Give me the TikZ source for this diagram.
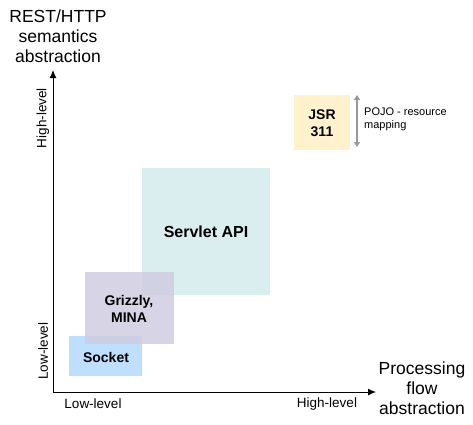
\documentclass[tikz,border=0pt]{standalone}
\usepackage{fontspec}
\setmainfont{Liberation Sans}
\usetikzlibrary{arrows.meta}
\definecolor{sockc}{HTML}{BFDFFF}
\definecolor{grizc}{HTML}{CFCDE0}
\definecolor{servc}{HTML}{DAEEEF}
\definecolor{jsrc}{HTML}{FFF2CC}
\tikzset{
  box/.style={inner sep=0pt, font=\bfseries\fontsize{14}{17}\selectfont, align=center},
  axislbl/.style={font=\fontsize{13.5}{16}\selectfont},
  title/.style={font=\fontsize{17.5}{20}\selectfont, align=center},
  axis/.style={draw=black, line width=1pt, -{Latex[length=8pt,width=7pt]}},
}
\begin{document}
\begin{tikzpicture}[x=1pt,y=-1pt]
\useasboundingbox (0,0) rectangle (473,424);
% boxes
\fill[servc] (142,168) rectangle (270,295);
\node[box, font=\bfseries\fontsize{16}{19}\selectfont] (servlet) at (206,232) {Servlet API};
\fill[sockc] (69,336) rectangle (142,376);
\fill[grizc, fill opacity=0.85] (85,272) rectangle (174,344);
\node[box] (grizzly) at (129,309) {Grizzly,\\MINA};
\node[box] (socket) at (106,357) {Socket};
\fill[jsrc] (294,95) rectangle (350,150);
\node[box] (jsr) at (322,123) {JSR\\311};
% axes
\coordinate (o) at (53,392);
\coordinate (ytop) at (53,70);
\coordinate (xend) at (376,392);
\draw[axis] (o) -- (ytop);
\draw[axis] (o) -- (xend);
% axis labels
\node[title] (ytitle) at (58,36) {REST/HTTP\\semantics\\abstraction};
\node[title] (xtitle) at (422,388) {Processing\\flow\\abstraction};
\node[axislbl] (xlow) at (93,404) {Low-level};
\node[axislbl] (xhigh) at (327,404) {High-level};
\node[axislbl, rotate=90] (yhigh) at (43,118) {High-level};
\node[axislbl, rotate=90] (ylow) at (43,351) {Low-level};
% pojo arrow
\coordinate (pa) at (357,95);
\coordinate (pb) at (357,147);
\draw[draw=gray!80, line width=1.3pt, {Triangle[length=5pt,width=6pt]}-{Triangle[length=5pt,width=6pt]}] (pa) -- (pb);
\node[font=\fontsize{11}{13}\selectfont, anchor=west, align=left, inner sep=0pt] (pojo) at (364,119) {POJO - resource\\mapping};
\end{tikzpicture}
\end{document}
